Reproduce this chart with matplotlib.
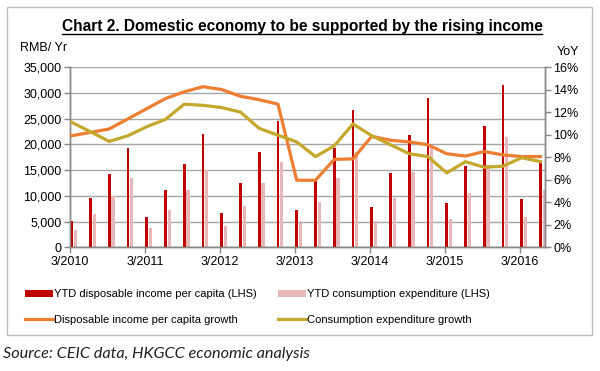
import numpy as np
import matplotlib
matplotlib.use("Agg")
import matplotlib.pyplot as plt
from matplotlib.lines import Line2D
from matplotlib.patches import Patch, Rectangle

# quarterly data, 3/2010 .. 6/2016
quarters = ["3/2010", "6/2010", "9/2010", "12/2010",
            "3/2011", "6/2011", "9/2011", "12/2011",
            "3/2012", "6/2012", "9/2012", "12/2012",
            "3/2013", "6/2013", "9/2013", "12/2013",
            "3/2014", "6/2014", "9/2014", "12/2014",
            "3/2015", "6/2015", "9/2015", "12/2015",
            "3/2016", "6/2016"]
ytd_income = [5200, 9650, 14200, 19200, 5850, 11050, 16250, 21950,
              6750, 12400, 18500, 24550, 7250, 12800, 19200, 26650,
              7900, 14500, 21800, 28900, 8600, 15800, 23550, 31500,
              9300, 16400]
ytd_consumption = [3400, 6550, 10000, 13450, 3800, 7250, 11050, 14950,
                   4200, 8000, 12450, 16650, 4700, 8850, 13500, 18550,
                   5150, 9650, 14700, 19950, 5450, 10500, 15900, 21400,
                   5900, 11150]
income_growth = [9.9, 10.2, 10.5, 11.4, 12.3, 13.2, 13.8, 14.25,
                 14.0, 13.4, 13.1, 12.7, 5.95, 5.95, 7.8, 7.85,
                 9.85, 9.5, 9.35, 9.1, 8.3, 8.1, 8.5, 8.2,
                 8.05, 8.05]
consumption_growth = [11.1, 10.25, 9.4, 9.9, 10.7, 11.35, 12.7, 12.6,
                      12.4, 12.0, 10.55, 9.95, 9.35, 8.05, 9.0, 10.95,
                      9.9, 9.1, 8.3, 8.05, 6.6, 7.6, 7.1, 7.2,
                      7.95, 7.6]
year_labels = ["3/2010", "3/2011", "3/2012", "3/2013", "3/2014", "3/2015", "3/2016"]

RED = "#C00000"
PINK = "#E8B7B7"
ORANGE = "#ED7D31"
OLIVE = "#C4A82C"
GRID = "#A6A6A6"

plt.rcParams["font.family"] = ["Liberation Sans", "DejaVu Sans"]

fig = plt.figure(figsize=(6, 3.71), dpi=100)
W, H = 600, 371

# outer frame
fig.patches.append(Rectangle((7 / W, 1 - 335 / H), 585 / W, 328 / H, transform=fig.transFigure,
                             fill=False, edgecolor="#BFBFBF", linewidth=1.0))

ax = fig.add_axes([70 / W, 1 - 247.3 / H, 475 / W, (247.3 - 67) / H])
ax2 = ax.twinx()

x = np.arange(len(quarters))
ax.bar(x + 0.09, ytd_income, width=0.15, color=RED, zorder=3)
ax.bar(x + 0.29, ytd_consumption, width=0.18, color=PINK, zorder=2)
ax.set_ylim(0, 35000)
ax.set_yticks(np.arange(0, 35001, 5000))
ax.set_yticklabels([f"{v:,}" for v in range(0, 35001, 5000)], fontsize=9)
ax.grid(axis="y", color=GRID, linewidth=1.0, zorder=0)
ax.set_axisbelow(True)
ax.set_xlim(0, 25.33)
ax.set_xticks(x[::4])
ax.set_xticklabels(year_labels, fontsize=9)

ax2.plot(x + 0.09, income_growth, color=ORANGE, linewidth=2.3, zorder=4)
ax2.plot(x + 0.09, consumption_growth, color=OLIVE, linewidth=2.3, zorder=5)
ax2.set_ylim(0, 16)
ax2.set_yticks(np.arange(0, 17, 2))
ax2.set_yticklabels([f"{v}%" for v in range(0, 17, 2)], fontsize=9)

for a in (ax, ax2):
    a.spines["top"].set_visible(False)
    for s in ("left", "right", "bottom"):
        a.spines[s].set_color("#868686")
        a.spines[s].set_linewidth(1.0)
    a.tick_params(colors="#868686", labelcolor="black", length=4, width=1, pad=2)

fig.text(20 / W, 1 - 48 / H, "RMB/ Yr", fontsize=9, va="center", ha="left")
fig.text(557 / W, 1 - 52 / H, "YoY", fontsize=9, va="center", ha="left")

title = fig.text(302 / W, 1 - 27 / H, "Chart 2. Domestic economy to be supported by the rising income",
                 fontsize=11.2, fontweight="bold", ha="center", va="center")
fig.canvas.draw()
bb = title.get_window_extent().transformed(fig.transFigure.inverted())
fig.add_artist(Line2D([bb.x0, bb.x1], [bb.y0 + 0.002, bb.y0 + 0.002], transform=fig.transFigure,
                      color="black", linewidth=1.0))

leg_kw = dict(loc="upper left", frameon=False, fontsize=8, handlelength=2.5, handleheight=0.6,
              handletextpad=0.1, labelspacing=1.4, borderpad=0, borderaxespad=0)
h1 = [Patch(facecolor=RED, edgecolor="none"), Line2D([], [], color=ORANGE, linewidth=2.3)]
fig.legend(h1, ["YTD disposable income per capita (LHS)", "Disposable income per capita growth"],
           bbox_to_anchor=(25 / W, 1 - 289 / H), **leg_kw)
h2 = [Patch(facecolor=PINK, edgecolor="none"), Line2D([], [], color=OLIVE, linewidth=2.3)]
fig.legend(h2, ["YTD consumption expenditure (LHS)", "Consumption expenditure growth"],
           bbox_to_anchor=(278 / W, 1 - 289 / H), **leg_kw)

fig.text(3 / W, 1 - 354 / H, "Source: CEIC data, HKGCC economic analysis", fontsize=11.7,
         family=["Lato", "DejaVu Sans"], style="italic", color="#222222", va="center", ha="left")

fig.savefig("out.png", dpi=100, facecolor="white")
